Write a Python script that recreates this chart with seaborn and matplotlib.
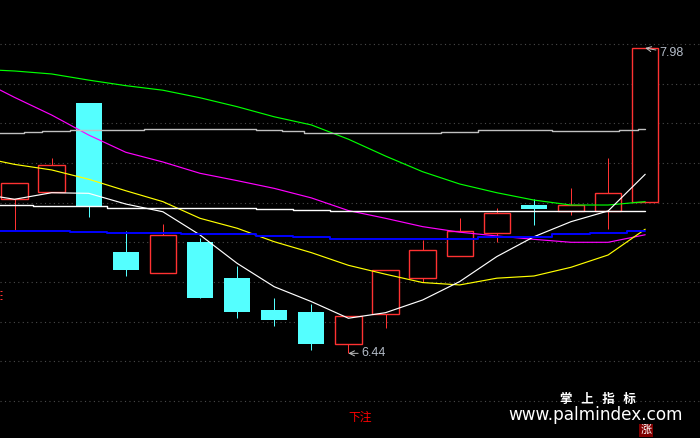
import pandas as pd
import numpy as np
import matplotlib
matplotlib.use('Agg')
import matplotlib.pyplot as plt
import seaborn as sns

sns.set_style('dark')
plt.rcParams['font.family'] = ['Noto Sans CJK SC', 'DejaVu Sans']

# candles
body_top = [7.298, 7.388, 7.703, 6.951, 7.035, 7.002, 6.820, 6.659, 6.649,
            6.627, 6.859, 6.960, 7.056, 7.146, 7.188, 7.187, 7.247, 7.980]
body_bot = [7.217, 7.255, 7.183, 6.861, 6.847, 6.719, 6.649, 6.608, 6.487,
            6.486, 6.637, 6.819, 6.930, 7.046, 7.168, 7.158, 7.158, 7.205]
high = [7.298, 7.425, 7.703, 7.057, 7.092, 7.023, 6.881, 6.719, 6.689,
        6.627, 6.859, 7.012, 7.121, 7.173, 7.219, 7.274, 7.425, 7.980]
low = [7.057, 7.255, 7.129, 6.832, 6.847, 6.719, 6.620, 6.580, 6.459,
       6.440, 6.570, 6.802, 6.930, 7.002, 7.087, 7.138, 7.067, 7.205]
is_up = [1, 1, 0, 0, 1, 0, 0, 0, 0, 1, 1, 1, 1, 1, 0, 1, 1, 1]

# moving averages, first value is the bar before the visible window
ma_index = list(range(-1, 18))
ma_green = [7.873, 7.864, 7.849, 7.818, 7.790, 7.767, 7.729, 7.684, 7.633, 7.592,
            7.520, 7.435, 7.356, 7.294, 7.250, 7.213, 7.188, 7.188, 7.205]
ma_magenta = [7.826, 7.731, 7.642, 7.541, 7.454, 7.405, 7.348, 7.311, 7.272, 7.224,
              7.160, 7.121, 7.079, 7.051, 7.032, 7.015, 7.000, 7.000, 7.038]
ma_yellow = [7.432, 7.393, 7.365, 7.318, 7.260, 7.205, 7.121, 7.071, 7.003, 6.948,
             6.884, 6.839, 6.797, 6.785, 6.819, 6.830, 6.874, 6.936, 7.066]
ma_white = [7.247, 7.217, 7.250, 7.247, 7.193, 7.154, 7.037, 6.894, 6.776, 6.701,
            6.617, 6.645, 6.709, 6.802, 6.928, 7.028, 7.104, 7.158, 7.343]

# slow lines that move in steps
flat_white = [7.187, 7.187, 7.182, 7.182, 7.174, 7.174, 7.174, 7.174, 7.168, 7.163,
              7.156, 7.156, 7.156, 7.156, 7.156, 7.156, 7.156, 7.156, 7.156]
flat_blue = [7.057, 7.057, 7.057, 7.052, 7.047, 7.047, 7.040, 7.040, 7.032, 7.027,
             7.019, 7.019, 7.015, 7.017, 7.025, 7.028, 7.041, 7.046, 7.057]
gray_index = [-1, 0.26, 0.74, 1.5, 3.5, 6.5, 7.2, 7.8, 10.5, 11.5, 12.5, 14.5, 16.3, 16.8, 17]
gray_line = [7.550, 7.556, 7.560, 7.565, 7.570, 7.565, 7.560, 7.550, 7.553, 7.558,
             7.565, 7.560, 7.565, 7.570, 7.570]

grid_levels = [6.2, 6.4, 6.6, 6.8, 7.0, 7.2, 7.4, 7.6, 7.8, 8.0]
edge_marks = [6.753, 6.733, 6.713]

RED = '#ff3232'
CYAN = '#54ffff'
PX = 0.72  # one pixel at dpi 100

fig = plt.figure(figsize=(7, 4.38), dpi=100, facecolor='black')
ax = fig.add_axes([0, 0, 1, 1], facecolor='black')

# wicks then bodies
bars = np.arange(len(high))
up = np.array(is_up) == 1
ax.vlines(bars[up], np.array(low)[up], np.array(high)[up], color=RED, lw=PX, zorder=2)
ax.vlines(bars[~up], np.array(low)[~up], np.array(high)[~up], color=CYAN, lw=PX, zorder=2)
heights = np.array(body_top) - np.array(body_bot)
ax.bar(bars[up], heights[up], bottom=np.array(body_bot)[up], width=0.71,
       facecolor='black', edgecolor=RED, lw=1, zorder=2.5)
ax.bar(bars[~up], heights[~up], bottom=np.array(body_bot)[~up], width=0.71,
       color=CYAN, lw=0, zorder=2.5)

df_ma = pd.DataFrame({'i': ma_index, 'green': ma_green, 'magenta': ma_magenta,
                      'yellow': ma_yellow, 'white': ma_white})
df_ma = df_ma.melt(id_vars='i', var_name='ma', value_name='price')
sns.lineplot(data=df_ma, x='i', y='price', hue='ma', estimator=None, legend=False, ax=ax,
             palette={'green': '#00ff00', 'magenta': '#ff00ff', 'yellow': '#ffff00', 'white': '#ffffff'},
             linewidth=0.85, zorder=3)
sns.lineplot(x=ma_index, y=flat_white, color='white', drawstyle='steps-mid', linewidth=1,
             estimator=None, ax=ax, zorder=3)
sns.lineplot(x=ma_index, y=flat_blue, color='#0000ff', drawstyle='steps-mid', linewidth=1.4,
             estimator=None, ax=ax, zorder=3)
sns.lineplot(x=gray_index, y=gray_line, color='#c0c0c0', drawstyle='steps-post', linewidth=1,
             estimator=None, ax=ax, zorder=3)

ax.set_xlim(-0.391, 18.477)
ax.set_ylim(6.013, 8.222)
ax.set_yticks(grid_levels)
ax.set_xticks([])
ax.grid(False)
ax.grid(axis='y', color='#4a4a4a', lw=0.8, linestyle=(0, (1, 3)), zorder=0)
ax.set_axisbelow(True)
ax.tick_params(length=0, labelleft=False)
ax.set_xlabel('')
ax.set_ylabel('')
sns.despine(ax=ax, left=True, bottom=True)

ax.hlines(edge_marks, -0.391, -0.33, color=RED, lw=PX, zorder=3)

# high / low callouts
ax.annotate('6.44', xy=(9, min(low)), xytext=(13, 0), textcoords='offset pixels',
            color='#b4bcc8', fontsize=9, va='center', ha='left', family='Liberation Sans',
            arrowprops=dict(arrowstyle='->', color='#c0c0c0', lw=0.7, shrinkA=0, shrinkB=0))
ax.annotate('7.98', xy=(17, max(high)), xytext=(14, -5), textcoords='offset pixels',
            color='#b4bcc8', fontsize=9, va='center', ha='left', family='Liberation Sans',
            arrowprops=dict(arrowstyle='->', color='#c0c0c0', lw=0.7, shrinkA=0, shrinkB=0))

# footer text
ax.text(9.0, 6.119, '下注', color='#ff0000', fontsize=8.5, ha='left', va='center')
ax.text(0.8536, 0.0885, '掌   上   指   标', transform=ax.transAxes, color='white', fontsize=9,
        fontweight='bold', ha='center', va='center')
ax.text(0.8505, 0.0525, 'www.palmindex.com', transform=ax.transAxes, color='white', fontsize=12.2,
        family='DejaVu Sans', ha='center', va='center')
ax.text(0.9225, 0.0175, '涨', transform=ax.transAxes, color='white', fontsize=8,
        ha='center', va='center', bbox=dict(facecolor='#800000', edgecolor='none', pad=1.2))

fig.savefig('out.png', dpi=100, facecolor='black')
